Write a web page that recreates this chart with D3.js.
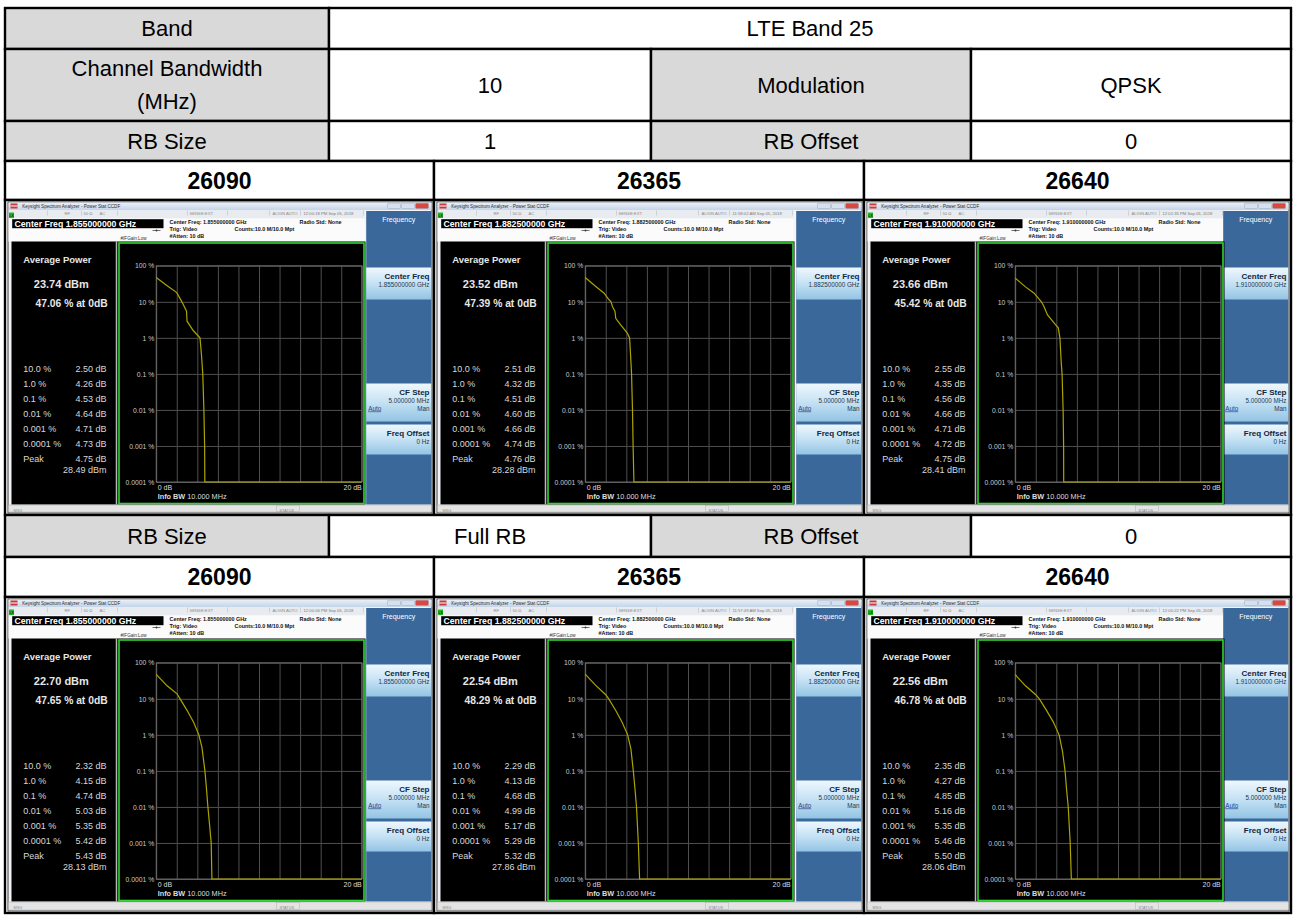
<!DOCTYPE html>
<html>
<head>
<meta charset="utf-8">
<script src="https://cdn.jsdelivr.net/npm/d3@7"></script>
<style>
  body { margin: 0; background: #fff; }
  text { font-family: 'Liberation Sans', Arial, sans-serif; }
</style>
</head>
<body>
<div id="chart"></div>
<script>
// ---- data ----
const band = 'LTE Band 25';
const bandwidth = '10';
const modulation = 'QPSK';
const rbSizes = ['1', 'Full RB'];
const rbOffsets = ['0', '0'];
const channels = ['26090', '26365', '26640'];
const centerFreqs = ['1.855000000', '1.882500000', '1.910000000'];
const timeStamps = [
  ['12:00:18 PM', '11:58:02 AM', '12:01:35 PM'],
  ['12:00:06 PM', '11:57:49 AM', '12:00:22 PM']
];
const avgPower = [[23.74, 23.52, 23.66], [22.70, 22.54, 22.56]];
const pctAt0dB = [[47.06, 47.39, 45.42], [47.65, 48.29, 46.78]];
const probLabels = ['10.0 %', '1.0 %', '0.1 %', '0.01 %', '0.001 %', '0.0001 %'];
const ccdfDb = [
  [[2.50, 4.26, 4.53, 4.64, 4.71, 4.73], [2.51, 4.32, 4.51, 4.60, 4.66, 4.74], [2.55, 4.35, 4.56, 4.66, 4.71, 4.72]],
  [[2.32, 4.15, 4.74, 5.03, 5.35, 5.42], [2.29, 4.13, 4.68, 4.99, 5.17, 5.29], [2.35, 4.27, 4.85, 5.16, 5.35, 5.46]]
];
const peakDb = [[4.75, 4.76, 4.75], [5.43, 5.32, 5.50]];
const peakDbm = [[28.49, 28.28, 28.41], [28.13, 27.86, 28.06]];

// CCDF traces, [dB above average, probability %]
const traceOneRb26090 = [[0, 47.06], [1.0, 29], [2.0, 18], [2.5, 10], [2.95, 5.5], [3.0, 2.9], [3.6, 1.6], [4.26, 1.0], [4.4, 0.35], [4.53, 0.1], [4.64, 0.01], [4.71, 0.001], [4.73, 0.0001], [20, 0.0001]];
const traceOneRb26365 = [[0, 47.39], [1.0, 27], [1.84, 17.4], [2.32, 11.4], [2.51, 10], [2.65, 7.4], [2.9, 5.4], [2.97, 3.5], [3.45, 2.3], [4.1, 1.35], [4.32, 1.0], [4.42, 0.31], [4.51, 0.1], [4.60, 0.01], [4.66, 0.001], [4.74, 0.0001], [20, 0.0001]];
const traceOneRb26640 = [[0, 45.42], [1.0, 26], [1.84, 17.4], [2.55, 10], [2.8, 7.4], [3.13, 4.4], [3.6, 3.0], [3.94, 2.3], [4.19, 1.9], [4.35, 1.0], [4.48, 0.2], [4.56, 0.1], [4.66, 0.01], [4.71, 0.001], [4.72, 0.0001], [20, 0.0001]];
const traceFullRb26090 = [[0, 47.65], [1.06, 23], [2.03, 13.8], [2.32, 10], [3.0, 4.8], [3.65, 2.2], [4.15, 1.0], [4.45, 0.45], [4.74, 0.1], [4.9, 0.03], [5.03, 0.01], [5.2, 0.003], [5.35, 0.001], [5.42, 0.0001], [20, 0.0001]];
const traceFullRb26365 = [[0, 48.29], [1.0, 24], [2.0, 13], [2.29, 10], [3.0, 4.6], [3.6, 2.2], [4.13, 1.0], [4.45, 0.4], [4.68, 0.1], [4.85, 0.03], [4.99, 0.01], [5.17, 0.001], [5.29, 0.0001], [20, 0.0001]];
const traceFullRb26640 = [[0, 46.78], [1.0, 23], [2.0, 13], [2.35, 10], [3.0, 5.0], [3.7, 2.3], [4.27, 1.0], [4.6, 0.35], [4.85, 0.1], [5.0, 0.03], [5.16, 0.01], [5.35, 0.001], [5.46, 0.0001], [20, 0.0001]];
const traces = [
  [traceOneRb26090, traceOneRb26365, traceOneRb26640],
  [traceFullRb26090, traceFullRb26365, traceFullRb26640]
];

const yTicks = [100, 10, 1, 0.1, 0.01, 0.001, 0.0001];
const yTickLabels = ['100 %', '10 %', '1 %', '0.1 %', '0.01 %', '0.001 %', '0.0001 %'];
const xTicks = [0, 2, 4, 6, 8, 10, 12, 14, 16, 18, 20];

// ---- layout ----
const width = 1296, height = 915;
const col4 = [5, 329, 651, 971, 1291];
const col3 = [5, 434, 864, 1291];
const rowY = [8, 49, 121, 161, 200, 515, 557, 597, 913];
const gray = '#d9d9d9';

const svg = d3.select('#chart').append('svg')
  .attr('width', width)
  .attr('height', height);

const defs = svg.append('defs');
const tg = defs.append('linearGradient').attr('id', 'titleGrad').attr('x1', 0).attr('y1', 0).attr('x2', 0).attr('y2', 1);
tg.append('stop').attr('offset', '0%').attr('stop-color', '#eaf1f9');
tg.append('stop').attr('offset', '100%').attr('stop-color', '#c4d4e7');
const kg = defs.append('linearGradient').attr('id', 'keyGrad').attr('x1', 0).attr('y1', 0).attr('x2', 0).attr('y2', 1);
kg.append('stop').attr('offset', '0%').attr('stop-color', '#eef7fd');
kg.append('stop').attr('offset', '45%').attr('stop-color', '#c9e4f5');
kg.append('stop').attr('offset', '100%').attr('stop-color', '#93c4e4');

const table = svg.append('g');

function cell(x0, x1, y0, y1, fill) {
  table.append('rect')
    .attr('x', x0).attr('y', y0)
    .attr('width', x1 - x0).attr('height', y1 - y0)
    .attr('fill', fill)
    .attr('stroke', '#000')
    .attr('stroke-width', 2.4);
}

function cellText(x0, x1, y0, y1, lines, size, weight) {
  const cx = (x0 + x1) / 2, cy = (y0 + y1) / 2;
  const lh = size * 1.5;
  lines.forEach((t, i) => {
    table.append('text')
      .attr('x', cx)
      .attr('y', cy + (i - (lines.length - 1) / 2) * lh + size * 0.36)
      .attr('text-anchor', 'middle')
      .attr('font-size', size)
      .attr('font-weight', weight || 'normal')
      .attr('fill', '#000')
      .text(t);
  });
}

// header rows
cell(col4[0], col4[1], rowY[0], rowY[1], gray);
cellText(col4[0], col4[1], rowY[0], rowY[1], ['Band'], 22);
cell(col4[1], col4[4], rowY[0], rowY[1], '#fff');
cellText(col4[1], col4[4], rowY[0], rowY[1], [band], 22);

const row1 = [[['Channel Bandwidth', '(MHz)'], gray], [[bandwidth], '#fff'], [['Modulation'], gray], [[modulation], '#fff']];
row1.forEach((c, i) => {
  cell(col4[i], col4[i + 1], rowY[1], rowY[2], c[1]);
  cellText(col4[i], col4[i + 1], rowY[1], rowY[2], c[0], 22);
});

function rbRow(k, y0, y1) {
  const cells = [[['RB Size'], gray], [[rbSizes[k]], '#fff'], [['RB Offset'], gray], [[rbOffsets[k]], '#fff']];
  cells.forEach((c, i) => {
    cell(col4[i], col4[i + 1], y0, y1, c[1]);
    cellText(col4[i], col4[i + 1], y0, y1, c[0], 22);
  });
}

function channelRow(y0, y1) {
  channels.forEach((ch, i) => {
    cell(col3[i], col3[i + 1], y0, y1, '#fff');
    cellText(col3[i], col3[i + 1], y0, y1, [ch], 23, 'bold');
  });
}

rbRow(0, rowY[2], rowY[3]);
channelRow(rowY[3], rowY[4]);
channels.forEach((ch, i) => cell(col3[i], col3[i + 1], rowY[4], rowY[5], '#fff'));
rbRow(1, rowY[5], rowY[6]);
channelRow(rowY[6], rowY[7]);
channels.forEach((ch, i) => cell(col3[i], col3[i + 1], rowY[7], rowY[8], '#fff'));

// ---- one analyzer screen ----
function txt(g, x, y, s, size, fill, opts) {
  const o = opts || {};
  return g.append('text')
    .attr('x', x).attr('y', y)
    .attr('font-size', size)
    .attr('fill', fill)
    .attr('font-weight', o.bold ? 'bold' : 'normal')
    .attr('text-anchor', o.anchor || 'start')
    .text(s);
}

function drawShot(sx, sy, w, h, k, i) {
  const g = svg.append('g').attr('transform', `translate(${sx},${sy})`);

  g.append('rect').attr('x', 0.5).attr('y', 0.5).attr('width', w - 1).attr('height', h - 1)
    .attr('fill', '#f2f4f7').attr('stroke', '#3a3a3a').attr('stroke-width', 1);

  // title bar
  g.append('rect').attr('x', 1).attr('y', 1).attr('width', w - 2).attr('height', 7.5).attr('fill', 'url(#titleGrad)');
  g.append('rect').attr('x', 3).attr('y', 2).attr('width', 7).attr('height', 5).attr('fill', '#c83a3a');
  g.append('rect').attr('x', 3).attr('y', 4).attr('width', 7).attr('height', 1).attr('fill', '#fff');
  txt(g, 14.7, 6.2, 'Keysight Spectrum Analyzer - Power Stat CCDF', 4.6, '#2b2b2b');
  [[w - 45, '#d5e1ef'], [w - 31, '#d5e1ef'], [w - 17, '#d9473f']].forEach(b => {
    g.append('rect').attr('x', b[0]).attr('y', 1.7).attr('width', 13).attr('height', 5.3)
      .attr('rx', 1).attr('fill', b[1]).attr('stroke', '#8a9bb0').attr('stroke-width', 0.4);
  });

  // status row
  g.append('rect').attr('x', 1).attr('y', 8.5).attr('width', 356).attr('height', 8.5).attr('fill', '#e8ebef');
  g.append('rect').attr('x', 1.5).attr('y', 11).attr('width', 5).attr('height', 5.5).attr('fill', '#24b424');
  txt(g, 2, 15.5, 'LX', 3.5, '#000');
  [40, 74, 110, 180, 220, 262, 293, 356].forEach(sxp => {
    g.append('line').attr('x1', sxp).attr('x2', sxp).attr('y1', 9).attr('y2', 14)
      .attr('stroke', '#b4b9c0').attr('stroke-width', 0.5);
  });
  txt(g, 57, 13.3, 'RF', 4.2, '#8c8c8c');
  txt(g, 76, 13.3, '50 Ω', 4.2, '#8c8c8c');
  txt(g, 92, 13.3, 'AC', 4.2, '#8c8c8c');
  txt(g, 182, 13.3, 'SENSE:EXT', 4.2, '#8c8c8c');
  txt(g, 265, 13.3, 'ALIGN AUTO', 4.2, '#8c8c8c');
  txt(g, 296, 13.3, `${timeStamps[k][i]} Sep 05, 2018`, 4.2, '#7c7c7c');

  // measurement header
  g.append('rect').attr('x', 1).attr('y', 17).attr('width', 356).attr('height', 23).attr('fill', '#fbfbfb');
  g.append('rect').attr('x', 4.7).attr('y', 17.7).attr('width', 151.3).attr('height', 9).attr('fill', '#000');
  txt(g, 7, 25.4, `Center Freq ${centerFreqs[i]} GHz`, 8.7, '#fff', { bold: true });
  g.append('line').attr('x1', 145).attr('x2', 153).attr('y1', 29).attr('y2', 29).attr('stroke', '#333').attr('stroke-width', 0.7);
  g.append('circle').attr('cx', 149).attr('cy', 29).attr('r', 0.9).attr('fill', '#333');
  txt(g, 113, 38.3, '#IFGain:Low', 4.6, '#333');
  txt(g, 162, 22.8, `Center Freq: ${centerFreqs[i]} GHz`, 5.4, '#111', { bold: true });
  txt(g, 162, 29.4, 'Trig: Video', 5.4, '#111', { bold: true });
  txt(g, 162, 36, '#Atten: 10 dB', 5.4, '#111', { bold: true });
  txt(g, 227, 29.4, 'Counts:10.0 M/10.0 Mpt', 5.4, '#111', { bold: true });
  txt(g, 292, 22.8, 'Radio Std: None', 5.4, '#111', { bold: true });

  // right soft-key panel
  const px = w - 66.3;
  g.append('rect').attr('x', px).attr('y', 9.5).attr('width', 65).attr('height', 293.5).attr('fill', '#3a689b');
  txt(g, px + 32.5, 20, 'Frequency', 7, '#fff', { anchor: 'middle' });
  const keys = [
    [66, 98, 'Center Freq', `${centerFreqs[i]} GHz`],
    [182, 220, 'CF Step', '5.000000 MHz'],
    [223, 253, 'Freq Offset', '0 Hz']
  ];
  keys.forEach(kd => {
    g.append('rect').attr('x', px).attr('y', kd[0]).attr('width', 65).attr('height', kd[1] - kd[0])
      .attr('fill', 'url(#keyGrad)');
    txt(g, w - 3, kd[0] + 11.5, kd[2], 8, '#102640', { bold: true, anchor: 'end' });
    txt(g, w - 3, kd[0] + 19.5, kd[3], 6.3, '#25384f', { anchor: 'end' });
  });
  txt(g, px + 2, 209, 'Auto', 6.3, '#1f3b8c').attr('text-decoration', 'underline');
  txt(g, w - 3, 209, 'Man', 6.3, '#25384f', { anchor: 'end' });

  // black measurement area
  g.append('rect').attr('x', 4).attr('y', 40).attr('width', 354).attr('height', 263).attr('fill', '#000');
  g.append('line').attr('x1', 109).attr('x2', 109).attr('y1', 40).attr('y2', 303)
    .attr('stroke', '#b8b8b8').attr('stroke-width', 1.5);
  g.append('rect').attr('x', 111.5).attr('y', 41.5).attr('width', 245).attr('height', 260.5)
    .attr('fill', 'none').attr('stroke', '#33d433').attr('stroke-width', 1.6);

  // left readout
  const fg = '#e6e6e6';
  txt(g, 15.7, 61, 'Average Power', 9.5, fg, { bold: true });
  txt(g, 26.3, 86, `${avgPower[k][i].toFixed(2)} dBm`, 11, fg, { bold: true });
  txt(g, 28, 105, `${pctAt0dB[k][i].toFixed(2)} % at 0dB`, 10.3, fg, { bold: true });
  probLabels.forEach((p, j) => {
    txt(g, 15.7, 170 + 15 * j, p, 9, '#d8d8d8');
    txt(g, 99, 170 + 15 * j, `${ccdfDb[k][i][j].toFixed(2)} dB`, 9, '#d8d8d8', { anchor: 'end' });
  });
  txt(g, 15.7, 260, 'Peak', 9, '#d8d8d8');
  txt(g, 99, 260, `${peakDb[k][i].toFixed(2)} dB`, 9, '#d8d8d8', { anchor: 'end' });
  txt(g, 99, 271.7, `${peakDbm[k][i].toFixed(2)} dBm`, 9, '#d8d8d8', { anchor: 'end' });

  // CCDF plot
  const x0 = 148.7, x1 = 354.3, y0 = 64.3, y1 = 280.5;
  const x = d3.scaleLinear().domain([0, 20]).range([x0, x1]);
  const y = d3.scaleLog().domain([100, 0.0001]).range([y0, y1]);

  const gx = g.append('g')
    .attr('transform', `translate(0,${y1})`)
    .call(d3.axisBottom(x).tickValues(xTicks).tickSize(-(y1 - y0)).tickFormat(''));
  gx.select('.domain').remove();
  gx.selectAll('line').attr('stroke', '#4f4f4f');

  const gy = g.append('g')
    .attr('transform', `translate(${x0},0)`)
    .call(d3.axisLeft(y).tickValues(yTicks).tickSize(-(x1 - x0)).tickPadding(2)
      .tickFormat((d, j) => yTickLabels[j]));
  gy.select('.domain').remove();
  gy.selectAll('line').attr('stroke', '#4f4f4f');
  gy.selectAll('text')
    .attr('fill', '#c8c8c8')
    .attr('font-size', 6.8)
    .attr('font-family', "'Liberation Sans', Arial, sans-serif");

  g.append('rect').attr('x', x0).attr('y', y0).attr('width', x1 - x0).attr('height', y1 - y0)
    .attr('fill', 'none').attr('stroke', '#7a7a7a').attr('stroke-width', 0.8);

  const line = d3.line().x(d => x(d[0])).y(d => y(d[1]));
  g.append('path')
    .datum(traces[k][i])
    .attr('d', line)
    .attr('fill', 'none')
    .attr('stroke', '#aca400')
    .attr('stroke-width', 1.2);

  txt(g, x0 + 1.5, 288, '0 dB', 7, '#dcdcdc');
  txt(g, x1, 288, '20 dB', 7, '#dcdcdc', { anchor: 'end' });
  const info = txt(g, x0 + 1.5, 297, '', 7.3, '#dcdcdc');
  info.append('tspan').attr('font-weight', 'bold').text('Info BW');
  info.append('tspan').text(' 10.000 MHz');

  // bottom status bar
  g.append('rect').attr('x', 1).attr('y', 303.5).attr('width', w - 2).attr('height', h - 305)
    .attr('fill', '#e4e4e4').attr('stroke', '#a9a9a9').attr('stroke-width', 0.5);
  txt(g, 6, 310.5, 'MSG', 3.8, '#8a8a8a');
  g.append('rect').attr('x', 269).attr('y', 304).attr('width', 23).attr('height', h - 306)
    .attr('fill', 'none').attr('stroke', '#b0b0b0').attr('stroke-width', 0.5);
  txt(g, 272, 310.5, 'STATUS', 3.8, '#8a8a8a');
}

[0, 1].forEach(k => {
  const top = k === 0 ? rowY[4] : rowY[7];
  const bottom = k === 0 ? rowY[5] : rowY[8];
  channels.forEach((ch, i) => {
    const sx = col3[i] + 2.5;
    const w = col3[i + 1] - col3[i] - 4;
    drawShot(sx, top + 1.5, w, bottom - top - 3, k, i);
  });
});
</script>
</body>
</html>
